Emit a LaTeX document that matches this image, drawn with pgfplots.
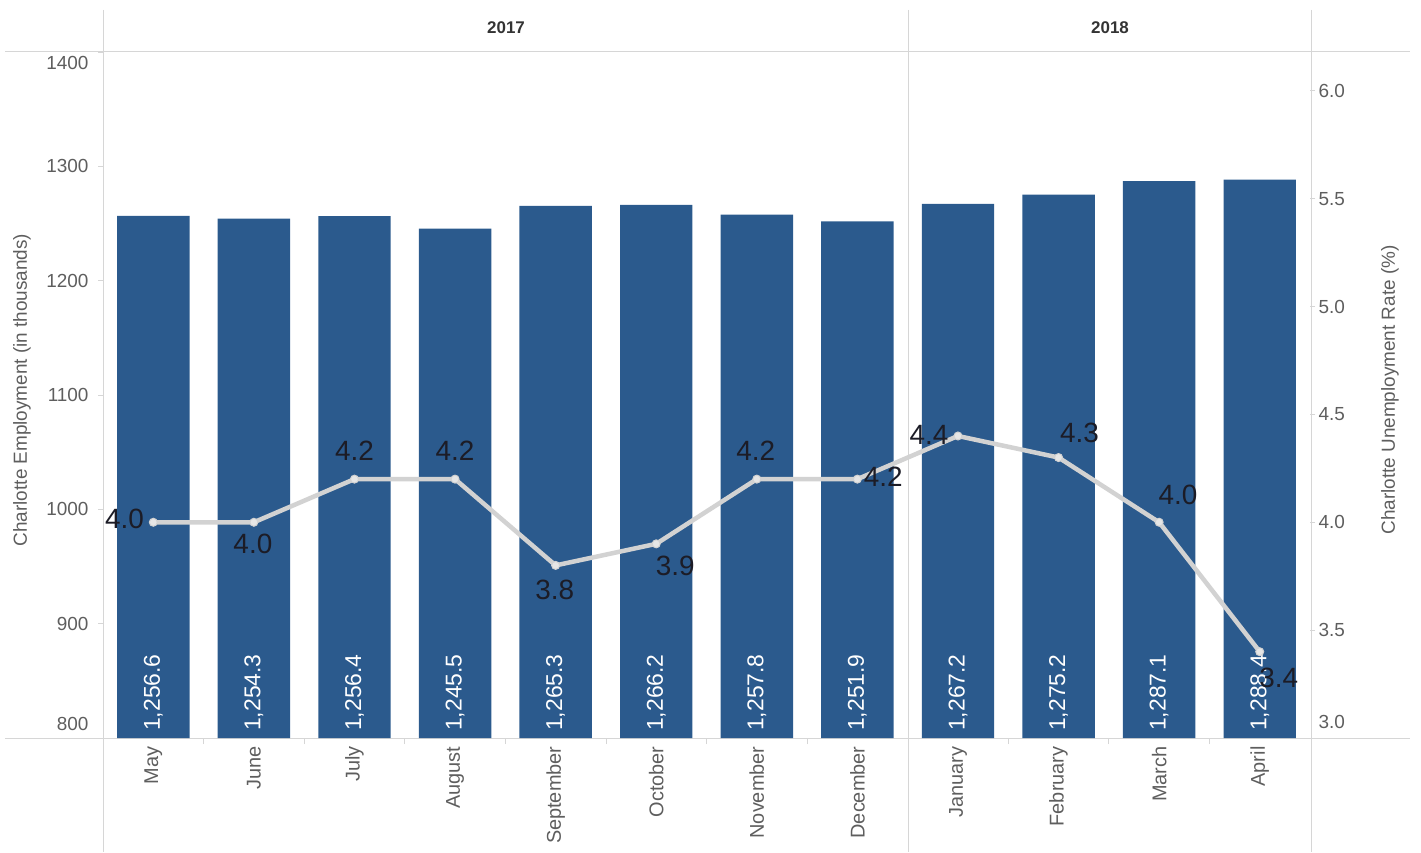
\documentclass[border=0pt]{standalone}
\usepackage{pgfplots}
\pgfplotsset{compat=1.18}
\usepackage{pgfplotstable}
\usepackage{fontspec}
\setmainfont{Liberation Sans}
\pgfkeys{/pgf/number format/assume math mode=true}
\definecolor{barblue}{HTML}{2B5A8D}
\definecolor{linegray}{HTML}{D2D2D2}
\definecolor{markgray}{HTML}{E6E6E6}
\definecolor{gridgray}{HTML}{D6D6D6}
\definecolor{txtgray}{HTML}{5E5E5E}
\definecolor{lbl}{HTML}{1C1C26}

\pgfplotstableread{
x emp base
0 1256.6 800
1 1254.3 800
2 1256.4 800
3 1245.5 800
4 1265.3 800
5 1266.2 800
6 1257.8 800
7 1251.9 800
8 1267.2 800
9 1275.2 800
10 1287.1 800
11 1288.4 800
}\emptable

\pgfplotstableread{
x rate dx dy
0 4.0 -29 3
1 4.0 -1 -22
2 4.2 0 28
3 4.2 0 28
4 3.8 -1 -25
5 3.9 19 -22
6 4.2 -1 28
7 4.2 26 2
8 4.4 -29 1
9 4.3 21 25
10 4.0 19 27
11 3.4 19 -26
}\ratetable

\begin{document}
\begin{tikzpicture}[x=1bp,y=1bp]
\useasboundingbox (0,0) rectangle (1421,852);
% frame lines
\draw[gridgray, line width=1bp] (5,800) -- (1410,800);
\draw[gridgray, line width=1bp] (5,114) -- (1410,114);
\draw[gridgray, line width=1bp] (103,842) -- (103,0);
\draw[gridgray, line width=1bp] (908,842) -- (908,0);
\draw[gridgray, line width=1bp] (1311,842) -- (1311,0);
% header
\node[font=\fontsize{17}{17}\selectfont\bfseries, text=black!80] at (506,824) {2017};
\node[font=\fontsize{17}{17}\selectfont\bfseries, text=black!80] at (1110,824) {2018};
% axis titles
\node[rotate=90, font=\fontsize{19}{19}\selectfont, text=txtgray] at (22,462) {Charlotte Employment (in thousands)};
\node[rotate=90, font=\fontsize{19}{19}\selectfont, text=txtgray] at (1390,462) {Charlotte Unemployment Rate (\%)};

\begin{axis}[
  at={(103bp,114bp)}, anchor=south west,
  scale only axis, width=1207bp, height=686bp,
  xmin=-0.5, xmax=11.5, ymin=800, ymax=1400,
  axis x line*=bottom, axis y line*=left,
  axis line style={draw=none},
  tick align=outside,
  ytick={800,900,1000,1100,1200,1300,1400},
  yticklabel={\ifnum\ticknum=0\relax\raisebox{14bp}[\height][\depth]{\pgfmathprintnumber[1000 sep={}]{\tick}}\else\ifnum\ticknum=6\relax\raisebox{-11bp}[\height][\depth]{\pgfmathprintnumber[1000 sep={}]{\tick}}\else\pgfmathprintnumber[1000 sep={}]{\tick}\fi\fi},
  yticklabel style={font=\fontsize{19}{19}\selectfont, text=txtgray, xshift=-6bp},
  ytick style={gridgray, line width=0.8bp},
  major tick length=5bp,
  xtick={0,1,2,3,4,5,6,7,8,9,10,11},
  xticklabels={May,June,July,August,September,October,November,December,January,February,March,April},
  xticklabel style={rotate=90, anchor=east, font=\fontsize{20}{20}\selectfont, text=txtgray},
  major x tick style={draw=none},
  minor xtick={0.5,1.5,2.5,3.5,4.5,5.5,6.5,8.5,9.5,10.5},
  minor x tick style={gridgray, line width=0.8bp},
  minor tick length=6bp,
]
\addplot[ybar, bar width=0.72, bar shift=0pt, fill=barblue, draw=none] table[x=x,y=emp]{\emptable};
\addplot[draw=none, mark=none,
  nodes near coords={\pgfmathprintnumber[fixed,fixed zerofill,precision=1,1000 sep={,}]{\pgfplotspointmeta}},
  point meta=\thisrow{emp},
  every node near coord/.style={yshift=7bp, rotate=90, anchor=west, text=white, inner sep=0pt, font=\fontsize{23}{23}\selectfont}
] table[x=x,y=base]{\emptable};
\end{axis}

\begin{axis}[
  at={(103bp,114bp)}, anchor=south west,
  scale only axis, width=1207bp, height=686bp,
  xmin=-0.5, xmax=11.5, ymin=3, ymax=6.18,
  axis x line=none, axis y line*=right,
  axis line style={draw=none},
  tick align=outside,
  clip=false,
  ytick={3,3.5,4,4.5,5,5.5,6},
  yticklabel={\ifnum\ticknum=0\relax\raisebox{16bp}[\height][\depth]{\pgfmathprintnumber[fixed,fixed zerofill,precision=1]{\tick}}\else\pgfmathprintnumber[fixed,fixed zerofill,precision=1]{\tick}\fi},
  yticklabel style={font=\fontsize{19}{19}\selectfont, text=txtgray},
  ytick style={gridgray, line width=0.8bp},
  major tick length=5bp,
]
\addplot[linegray, line width=4.5bp, mark=*, mark size=4bp,
  mark options={fill=markgray, draw=linegray, line width=1bp},
  nodes near coords={\pgfmathprintnumber[fixed,fixed zerofill,precision=1]{\pgfplotspointmeta}},
  point meta=\thisrow{rate},
  visualization depends on={\thisrow{dx}\as\dx},
  visualization depends on={\thisrow{dy}\as\dy},
  every node near coord/.style={anchor=center, xshift=\dx, yshift=\dy, text=lbl, inner sep=0pt, font=\fontsize{28}{28}\selectfont}
] table[x=x,y=rate]{\ratetable};
\end{axis}
\end{tikzpicture}
\end{document}
